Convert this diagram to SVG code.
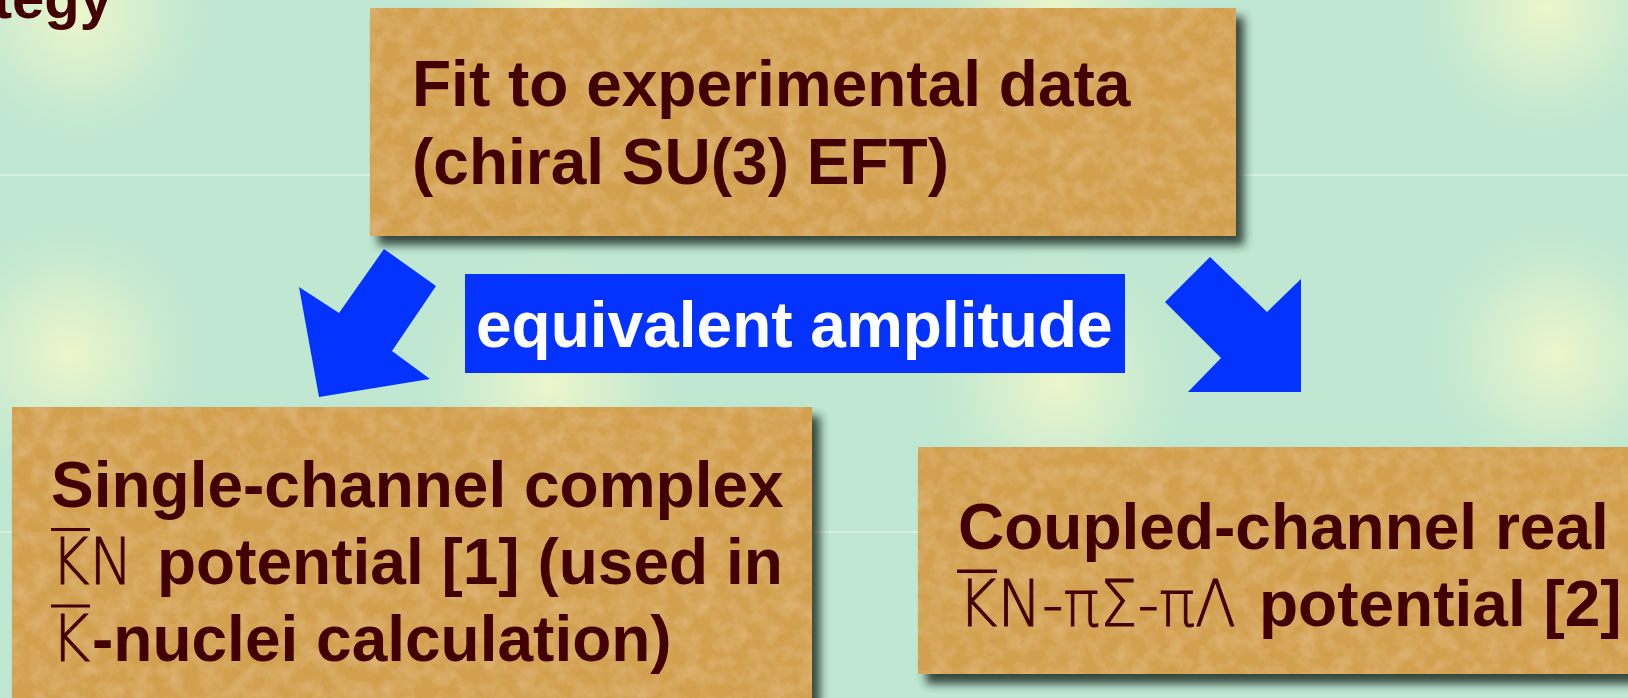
<svg xmlns="http://www.w3.org/2000/svg" width="1628" height="698" viewBox="0 0 1628 698">
  <defs>
    <radialGradient id="glow" cx="50%" cy="50%" r="50%">
      <stop offset="0" stop-color="#ecf6cb" stop-opacity="1"/>
      <stop offset="0.45" stop-color="#dcf0cd" stop-opacity="0.7"/>
      <stop offset="1" stop-color="#bfe7d1" stop-opacity="0"/>
    </radialGradient>
    <filter id="shadow" x="-10%" y="-10%" width="130%" height="140%">
      <feGaussianBlur stdDeviation="5"/>
    </filter>
    <filter id="paper" x="0" y="0" width="1" height="1">
      <feTurbulence type="fractalNoise" baseFrequency="0.06" numOctaves="3" seed="7" result="noise"/>
      <feColorMatrix in="noise" type="matrix" values="0 0 0 0 0.90  0 0 0 0 0.71  0 0 0 0 0.40  0.55 0 0 0 -0.2" result="spots"/>
      <feComposite in="spots" in2="SourceGraphic" operator="in" result="s2"/>
      <feMerge><feMergeNode in="SourceGraphic"/><feMergeNode in="s2"/></feMerge>
    </filter>
    <style>
      .box { fill: #d3a04f; }
      .shd { fill: #26352d; opacity: 0.9; }
      .bold { font-family: "Liberation Sans", Arial, sans-serif; font-weight: bold; font-size: 64px; fill: #430000; }
      .thin { font-family: "DejaVu Sans", "Liberation Sans", sans-serif; font-weight: 200; font-size: 64px; fill: #430000; stroke: #430000; stroke-width: 0.9px; }
      .bar { fill: #430000; }
      .arrow { fill: #0433ff; }
      .lbl { font-family: "Liberation Sans", Arial, sans-serif; font-weight: bold; font-size: 64px; fill: #ffffff; }
    </style>
  </defs>

  <!-- background -->
  <rect x="0" y="0" width="1628" height="698" fill="#bfe7d1"/>
  <g id="background-glows">
    <circle cx="80" cy="12" r="150" fill="url(#glow)"/>
    <circle cx="565" cy="8" r="150" fill="url(#glow)"/>
    <circle cx="1055" cy="8" r="150" fill="url(#glow)"/>
    <circle cx="1545" cy="8" r="150" fill="url(#glow)"/>
    <circle cx="70" cy="353" r="150" fill="url(#glow)"/>
    <circle cx="550" cy="385" r="150" fill="url(#glow)"/>
    <circle cx="1058" cy="383" r="150" fill="url(#glow)"/>
    <circle cx="1555" cy="353" r="150" fill="url(#glow)"/>
    <rect x="0" y="174" width="1628" height="2" fill="#d8f0e2"/>
    <rect x="0" y="531" width="1628" height="2" fill="#d8f0e2"/>
  </g>

  <g id="title">
    <text class="bold" x="112" y="18" text-anchor="end" style="font-size:58px">Strategy</text>
  </g>

  <!-- top node -->
  <g id="node-fit">
    <rect class="shd" x="378" y="17" width="866" height="228" filter="url(#shadow)"/>
    <rect class="box" x="370" y="8" width="866" height="228" filter="url(#paper)"/>
    <text class="bold" x="412" y="106">Fit to experimental data</text>
    <text class="bold" x="412" y="184">(chiral SU(3) EFT)</text>
  </g>

  <!-- bottom left node -->
  <g id="node-single">
    <rect class="shd" x="20" y="416" width="800" height="300" filter="url(#shadow)"/>
    <rect class="box" x="12" y="407" width="800" height="300" filter="url(#paper)"/>
    <text class="bold" x="51" y="507">Single-channel complex</text>
    <text class="thin" x="51" y="584" textLength="82" lengthAdjust="spacingAndGlyphs">KN</text>
    <rect class="bar" x="51" y="528" width="39" height="3"/>
    <text class="bold" x="157" y="584">potential [1] (used in</text>
    <text class="thin" x="51" y="661" textLength="39" lengthAdjust="spacingAndGlyphs">K</text>
    <rect class="bar" x="51" y="604.5" width="39" height="3"/>
    <text class="bold" x="92" y="661">-nuclei calculation)</text>
  </g>

  <!-- bottom right node -->
  <g id="node-coupled">
    <rect class="shd" x="926" y="456" width="760" height="228" filter="url(#shadow)"/>
    <rect class="box" x="918" y="447" width="760" height="227" filter="url(#paper)"/>
    <text class="bold" x="958" y="549">Coupled-channel real</text>
    <text class="thin" x="958" y="626" textLength="278" lengthAdjust="spacingAndGlyphs">KN-πΣ-πΛ</text>
    <rect class="bar" x="957" y="569.5" width="40" height="3.5"/>
    <text class="bold" x="1259" y="626">potential [2]</text>
  </g>

  <!-- connectors -->
  <g id="connectors">
    <polygon class="arrow" points="384,249 436,286 392,351 430,379 319,397 299,287 339,313"/>
    <polygon class="arrow" points="1210,257 1267,312 1301,279 1301,392 1188,392 1221,358 1165,302"/>
  </g>

  <g id="label-equivalent">
    <rect x="465" y="274" width="660" height="99" fill="#0433ff"/>
    <text class="lbl" x="476" y="347">equivalent amplitude</text>
  </g>
</svg>
